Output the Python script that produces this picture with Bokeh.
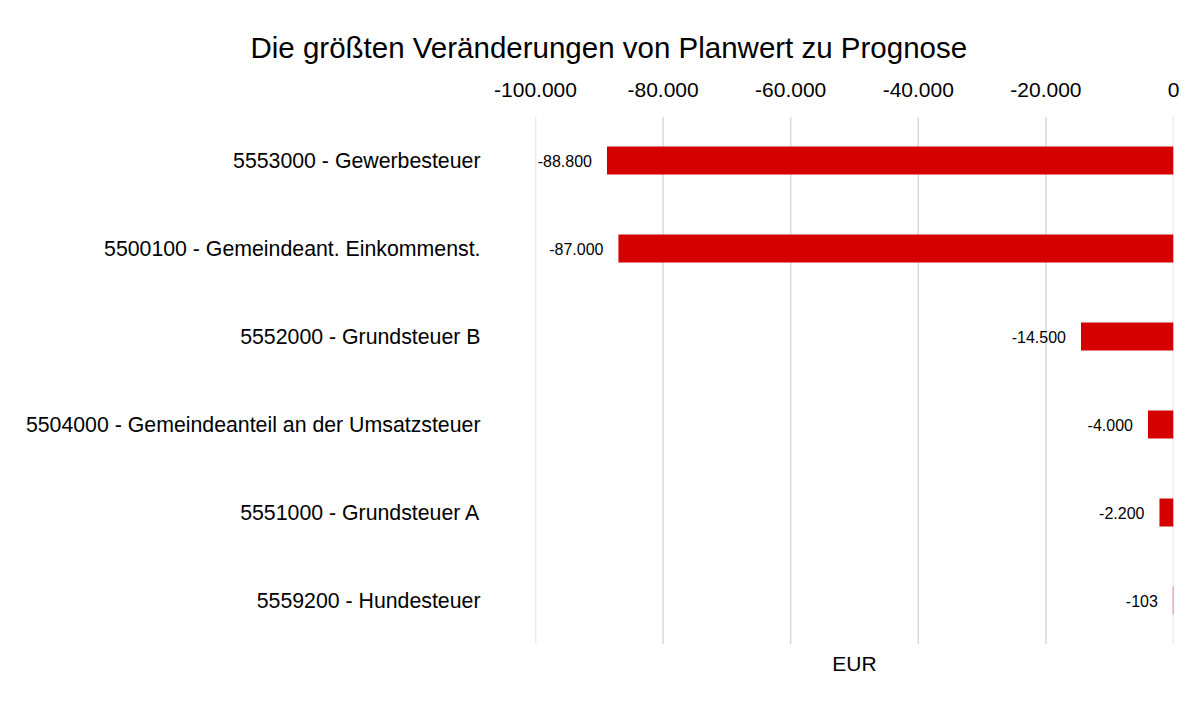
from bokeh.plotting import figure
from bokeh.models import ColumnDataSource, FactorRange, Range1d, FixedTicker, LinearAxis, Span
from bokeh.core.properties import value
from bokeh.embed import file_html
from bokeh.resources import INLINE

categories = [
    "5553000 - Gewerbesteuer",
    "5500100 - Gemeindeant. Einkommenst.",
    "5552000 - Grundsteuer B",
    "5504000 - Gemeindeanteil an der Umsatzsteuer",
    "5551000 - Grundsteuer A",
    "5559200 - Hundesteuer",
]
values = [-88800, -87000, -14500, -4000, -2200, -103]
value_labels = ["-88.800", "-87.000", "-14.500", "-4.000", "-2.200", "-103"]
tick_values = [-100000, -80000, -60000, -40000, -20000, 0]
tick_labels = ["-100.000", "-80.000", "-60.000", "-40.000", "-20.000", "0"]
title_text = "Die größten Veränderungen von Planwert zu Prognose"
x_title = "EUR"

FONT = "Liberation Sans"

src = ColumnDataSource(dict(cat=categories, val=values, lab=value_labels))

p = figure(
    width=1195, height=694,
    y_range=FactorRange(factors=list(reversed(categories)), range_padding=0),
    x_range=Range1d(tick_values[0], tick_values[-1]),
    x_axis_location="above",
    output_backend="svg", toolbar_location=None,
    min_border_left=535, min_border_right=22, min_border_top=116, min_border_bottom=50,
)
p.outline_line_color = None
p.background_fill_color = "white"
p.border_fill_color = "white"

# vertical gridlines (drawn as spans so the ones on the frame edges show too)
p.xgrid.grid_line_color = None
p.ygrid.grid_line_color = None
for t in tick_values:
    p.add_layout(Span(location=t, dimension="height", line_color="#d9d9d9",
                      line_width=1.5, level="underlay"))

p.hbar(y="cat", right="val", left=0, height=0.32, source=src,
       fill_color="#d40000", line_color=None)
p.text(x="val", y="cat", text="lab", source=src, x_offset=-15,
       text_align="right", text_baseline="middle",
       text_font=value(FONT), text_font_size="16px", text_color="#000000")

# top x axis
xa = p.xaxis[0]
xa.ticker = FixedTicker(ticks=tick_values)
xa.major_label_overrides = {v: l for v, l in zip(tick_values, tick_labels)}
xa.axis_line_color = None
xa.major_tick_line_color = None
xa.minor_tick_line_color = None
xa.major_label_text_font = FONT
xa.major_label_text_font_size = "21px"
xa.major_label_text_color = "#000000"
xa.major_label_standoff = 14

# y axis
ya = p.yaxis[0]
ya.axis_line_color = None
ya.major_tick_line_color = None
ya.minor_tick_line_color = None
ya.major_label_text_font = FONT
ya.major_label_text_font_size = "21.3px"
ya.major_label_text_color = "#000000"
ya.major_label_standoff = 49

# bottom axis for the "EUR" label
ba = LinearAxis(ticker=FixedTicker(ticks=[]), axis_label=x_title)
ba.axis_line_color = None
ba.major_tick_line_color = None
ba.minor_tick_line_color = None
ba.major_label_text_font_size = "0px"
ba.axis_label_text_font = FONT
ba.axis_label_text_font_size = "21px"
ba.axis_label_text_font_style = "normal"
ba.axis_label_text_color = "#000000"
ba.axis_label_standoff = 7
p.add_layout(ba, "below")

p.title.text = title_text
p.title.align = "left"
p.title.offset = -285
p.title.text_font = FONT
p.title.text_font_size = "29.5px"
p.title.text_font_style = "normal"
p.title.text_color = "#000000"
p.title.standoff = 31

open("out.html", "w").write(file_html(p, INLINE))
